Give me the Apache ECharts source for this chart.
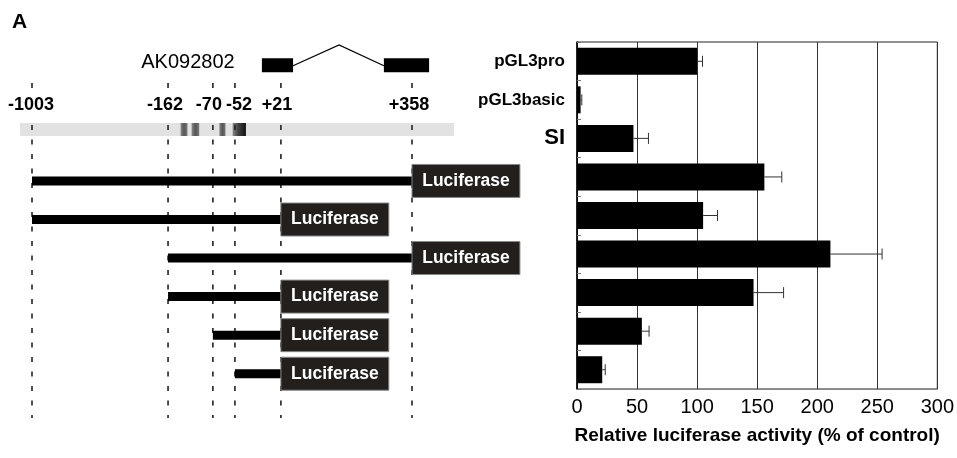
<!DOCTYPE html>
<html><head><meta charset="utf-8">
<script src="https://cdn.jsdelivr.net/npm/echarts@6/dist/echarts.min.js"></script>
<style>html,body{margin:0;padding:0;background:#fff}#c{width:957px;height:458px}</style>
</head><body><div id="c"></div>
<script>
// ---------- bar chart data ----------
const categories = ['pGL3pro','pGL3basic','SI','SI-1','SI-2','SI-3','SI-4','SI-5','SI-6'];
const shownLabels = ['pGL3pro','pGL3basic','SI'];
const activity = [100, 3, 47, 156, 105, 211, 147, 54, 21];
const activityErr = [4.5, 1, 12.5, 14.5, 12, 43, 25, 6, 2.5];
const xTicks = [0, 50, 100, 150, 200, 250, 300];

// ---------- schematic data (diagram is not to scale; positions in layout units 0..100) ----------
const siteLabels = ['-1003','-162','-70','-52','+21','+358'];
const sitePos = [0, 35.8, 47.6, 53.4, 65.5, 100];
const constructStart = ['-1003','-1003','-162','-162','-70','-52'];
const constructEnd   = ['+358','+21','+358','+21','+21','+21'];
const constructRow   = [3, 4, 5, 6, 7, 8];
const promoterRange = [-3.16, 111.05];
const elementBands = [[39.1, 40.9], [42.0, 44.0], [49.3, 50.9], [52.8, 56.3]];
const exons = [[60.5, 68.7], [92.6, 104.5]];
const intronPeak = 80.8;
const geneName = 'AK092802';

const FONT = '"Liberation Sans", Arial, Helvetica, sans-serif';
const LUC_W = 28.4;
const labelShift = [-1, -3, -4, 4, -4, -3];
const posOf = l => sitePos[siteLabels.indexOf(l)];

const chart = echarts.init(document.getElementById('c'), null, {renderer: 'canvas'});

const option = {
  animation: false,
  backgroundColor: '#fff',
  graphic: [{type: 'text', left: 12, top: 12, style: {text: 'A', font: 'bold 21px ' + FONT, fill: '#000'}}],
  grid: [
    {left: 577, right: 17, top: 42, bottom: 69, show: true, borderColor: '#222', borderWidth: 1, backgroundColor: 'transparent'},
    {left: 32, width: 380, top: 46, height: 347}
  ],
  xAxis: [
    {type: 'value', gridIndex: 0, min: 0, max: 300, interval: 50,
     axisLine: {show: true, lineStyle: {color: '#888', width: 1}},
     axisTick: {show: false},
     axisLabel: {color: '#000', fontSize: 20, fontFamily: FONT, margin: 8,
       formatter: v => xTicks.indexOf(v) < 0 ? '' : String(v)},
     splitLine: {show: true, lineStyle: {color: '#333', width: 1}},
     name: 'Relative luciferase activity (% of control)', nameLocation: 'middle', nameGap: 37,
     nameTextStyle: {color: '#000', fontSize: 19, fontWeight: 'bold', fontFamily: FONT}},
    {type: 'value', gridIndex: 1, min: 0, max: 100, show: false}
  ],
  yAxis: [
    {type: 'category', gridIndex: 0, data: categories, inverse: true,
     axisLine: {show: true, lineStyle: {color: '#000', width: 1.5}},
     axisTick: {show: true, inside: true, length: 4, lineStyle: {color: '#777'}},
     axisLabel: {margin: 12, color: '#000',
       formatter: v => shownLabels.indexOf(v) < 0 ? '' : (v === 'SI' ? '{big|' + v + '}' : '{n|' + v + '}'),
       rich: {n: {fontSize: 17, fontWeight: 'bold', fontFamily: FONT, color: '#000'},
              big: {fontSize: 22, fontWeight: 'bold', fontFamily: FONT, color: '#000'}}},
     splitLine: {show: false}},
    {type: 'value', gridIndex: 1, min: -0.5, max: 8.5, inverse: true, show: false}
  ],
  series: [
    {type: 'bar', xAxisIndex: 0, yAxisIndex: 0, data: activity, barWidth: 27,
     itemStyle: {color: '#000'}, z: 3},
    {type: 'custom', xAxisIndex: 0, yAxisIndex: 0, z: 4,
     data: activity.map((v, i) => [v, i, activityErr[i]]),
     renderItem: (params, api) => {
       const v = api.value(0), i = api.value(1), e = api.value(2);
       const p1 = api.coord([v, i]), p2 = api.coord([v + e, i]);
       const st = {stroke: '#333', lineWidth: 1};
       return {type: 'group', children: [
         {type: 'line', shape: {x1: p1[0], y1: p1[1], x2: p2[0], y2: p2[1]}, style: st},
         {type: 'line', shape: {x1: p2[0], y1: p2[1] - 5.5, x2: p2[0], y2: p2[1] + 5.5}, style: st}
       ]};
     }},
    // promoter region bar with elements
    {type: 'custom', xAxisIndex: 1, yAxisIndex: 1, clip: false, z: 2,
     data: [[promoterRange[0], promoterRange[1], 1.665]],
     renderItem: (params, api) => {
       const a = api.coord([api.value(0), api.value(2)]), b = api.coord([api.value(1), api.value(2)]);
       const kids = [{type: 'rect', shape: {x: a[0], y: a[1] - 6.5, width: b[0] - a[0], height: 13}, style: {fill: '#e2e2e2'}}];
       elementBands.forEach((bd, k) => {
         const s = api.coord([bd[0], 1.665]), t = api.coord([bd[1], 1.665]);
         const dark = k === 3;
         kids.push({type: 'rect', shape: {x: s[0], y: s[1] - 6.5, width: t[0] - s[0], height: 13},
           style: {fill: new echarts.graphic.LinearGradient(0, 0, 1, 0, dark ?
             [{offset: 0, color: '#888'}, {offset: 0.4, color: '#444'}, {offset: 1, color: '#111'}] :
             [{offset: 0, color: '#888'}, {offset: 0.5, color: '#555'}, {offset: 1, color: '#777'}])}});
       });
       return {type: 'group', children: kids};
     }},
    // gene structure
    {type: 'custom', xAxisIndex: 1, yAxisIndex: 1, clip: false, z: 2,
     data: [[exons[0][0], exons[0][1], exons[1][0], exons[1][1], intronPeak]],
     renderItem: (params, api) => {
       const e1a = api.coord([api.value(0), 0]), e1b = api.coord([api.value(1), 0]);
       const e2a = api.coord([api.value(2), 0]), e2b = api.coord([api.value(3), 0]);
       const pk = api.coord([api.value(4), -0.53]);
       const tx = api.coord([41.05, -0.085]);
       return {type: 'group', children: [
         {type: 'rect', shape: {x: e1a[0], y: e1a[1] - 7, width: e1b[0] - e1a[0], height: 14}, style: {fill: '#000'}},
         {type: 'rect', shape: {x: e2a[0], y: e2a[1] - 7, width: e2b[0] - e2a[0], height: 14}, style: {fill: '#000'}},
         {type: 'polyline', shape: {points: [[e1b[0], e1b[1] + 0.5], pk, [e2a[0], e2a[1] + 0.5]]}, style: {stroke: '#000', lineWidth: 1.3, fill: null}},
         {type: 'text', style: {text: geneName, x: tx[0], y: tx[1], align: 'center', verticalAlign: 'middle', textAlign: 'center', textVerticalAlign: 'middle', font: '20px ' + FONT, fill: '#000'}}
       ]};
     }},
    // site dashed lines and labels
    {type: 'custom', xAxisIndex: 1, yAxisIndex: 1, clip: false, z: 5,
     data: sitePos.map((p, i) => [p, i]),
     renderItem: (params, api) => {
       const i = api.value(1);
       const t0 = api.coord([api.value(0), 0.46]), t1 = api.coord([api.value(0), 0.59]);
       const d0 = api.coord([api.value(0), 1.55]), d1 = api.coord([api.value(0), 9.15]);
       const lb = api.coord([api.value(0), 1.03]);
       return {type: 'group', children: [
         {type: 'line', shape: {x1: t0[0], y1: t0[1], x2: t1[0], y2: t1[1]}, style: {stroke: '#222', lineWidth: 1.6}},
         {type: 'line', shape: {x1: d0[0], y1: d0[1], x2: d1[0], y2: d1[1]}, style: {stroke: '#222', lineWidth: 1.6, lineDash: [5, 9.5]}},
         {type: 'text', style: {text: siteLabels[i], x: lb[0] + labelShift[i], y: lb[1], align: 'center', verticalAlign: 'middle', textAlign: 'center', textVerticalAlign: 'middle', font: 'bold 18px ' + FONT, fill: '#000'}}
       ]};
     }},
    // constructs
    {type: 'custom', xAxisIndex: 1, yAxisIndex: 1, clip: false, z: 6,
     data: constructRow.map((r, i) => [posOf(constructStart[i]), posOf(constructEnd[i]), r]),
     renderItem: (params, api) => {
       const r = api.value(2);
       const s = api.coord([api.value(0), r]), e = api.coord([api.value(1), r]);
       const be = api.coord([api.value(1) + LUC_W, r]);
       return {type: 'group', children: [
         {type: 'rect', shape: {x: s[0], y: s[1] - 4.5, width: e[0] - s[0], height: 9}, style: {fill: '#000'}},
         {type: 'rect', shape: {x: e[0], y: e[1] - 16.5, width: be[0] - e[0], height: 33}, style: {fill: '#221f1c', stroke: '#888', lineWidth: 1}},
         {type: 'text', style: {text: 'Luciferase', x: (e[0] + be[0]) / 2, y: e[1], align: 'center', verticalAlign: 'middle', textAlign: 'center', textVerticalAlign: 'middle', font: 'bold 17.5px ' + FONT, fill: '#fff'}}
       ]};
     }}
  ]
};
chart.setOption(option);
</script></body></html>
